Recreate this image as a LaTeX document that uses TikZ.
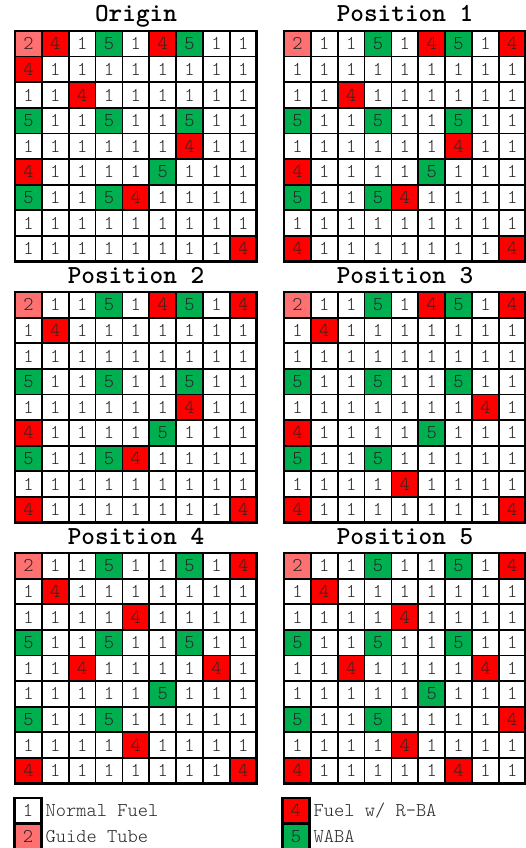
\documentclass[tikz,border=0pt]{standalone}
\usepackage{fontspec}
\setmonofont{Latin Modern Mono Light}
\usetikzlibrary{positioning}

\definecolor{c1}{RGB}{255,255,255}
\definecolor{c2}{RGB}{255,112,112}
\definecolor{c4}{RGB}{255,0,0}
\definecolor{c5}{RGB}{0,176,80}

% one 9x9 loading map: name, left, top, title, rows
\newcommand{\coremap}[5]{%
  \node[maptitle] (#1-t) at (#2+121,#3-9) {#4};
  \foreach \row [count=\r] in {#5} {
    \foreach \v [count=\c] in \row
      \node[cell, fill=c\v] (#1-\r-\c) at (#2+\c*26.85-13.425, #3+\r*25.6-12.8) {\v};
  }
  \draw[line width=2.6pt] (#1-1-1.north west) rectangle (#1-9-9.south east);
}

\begin{document}
\begin{tikzpicture}[x=1pt, y=-1pt,
    cell/.style={rectangle, draw, line width=1.8pt, minimum width=26.85pt,
      minimum height=25.6pt, inner sep=0pt, outer sep=0pt, text=black!85,
      font=\ttfamily\fontsize{19.5}{19.5}\selectfont},
    maptitle/.style={anchor=base, font=\ttfamily\fontsize{26}{26}\selectfont\bfseries},
    keycell/.style={cell, line width=2.4pt},
    keytext/.style={anchor=west, inner sep=0pt, text=black!85,
      font=\ttfamily\fontsize{19.5}{19.5}\selectfont}]
  \useasboundingbox (0,0) rectangle (526,848);

  \coremap{org}{15}{31}{Origin}{
    {2,4,1,5,1,4,5,1,1},{4,1,1,1,1,1,1,1,1},{1,1,4,1,1,1,1,1,1},
    {5,1,1,5,1,1,5,1,1},{1,1,1,1,1,1,4,1,1},{4,1,1,1,1,5,1,1,1},
    {5,1,1,5,4,1,1,1,1},{1,1,1,1,1,1,1,1,1},{1,1,1,1,1,1,1,1,4}}
  \coremap{p1}{284}{31}{Position 1}{
    {2,1,1,5,1,4,5,1,4},{1,1,1,1,1,1,1,1,1},{1,1,4,1,1,1,1,1,1},
    {5,1,1,5,1,1,5,1,1},{1,1,1,1,1,1,4,1,1},{4,1,1,1,1,5,1,1,1},
    {5,1,1,5,4,1,1,1,1},{1,1,1,1,1,1,1,1,1},{4,1,1,1,1,1,1,1,4}}
  \coremap{p2}{15}{292}{Position 2}{
    {2,1,1,5,1,4,5,1,4},{1,4,1,1,1,1,1,1,1},{1,1,1,1,1,1,1,1,1},
    {5,1,1,5,1,1,5,1,1},{1,1,1,1,1,1,4,1,1},{4,1,1,1,1,5,1,1,1},
    {5,1,1,5,4,1,1,1,1},{1,1,1,1,1,1,1,1,1},{4,1,1,1,1,1,1,1,4}}
  \coremap{p3}{284}{292}{Position 3}{
    {2,1,1,5,1,4,5,1,4},{1,4,1,1,1,1,1,1,1},{1,1,1,1,1,1,1,1,1},
    {5,1,1,5,1,1,5,1,1},{1,1,1,1,1,1,1,4,1},{4,1,1,1,1,5,1,1,1},
    {5,1,1,5,1,1,1,1,1},{1,1,1,1,4,1,1,1,1},{4,1,1,1,1,1,1,1,4}}
  \coremap{p4}{15}{553}{Position 4}{
    {2,1,1,5,1,1,5,1,4},{1,4,1,1,1,1,1,1,1},{1,1,1,1,4,1,1,1,1},
    {5,1,1,5,1,1,5,1,1},{1,1,4,1,1,1,1,4,1},{1,1,1,1,1,5,1,1,1},
    {5,1,1,5,1,1,1,1,1},{1,1,1,1,4,1,1,1,1},{4,1,1,1,1,1,1,1,4}}
  \coremap{p5}{284}{553}{Position 5}{
    {2,1,1,5,1,1,5,1,4},{1,4,1,1,1,1,1,1,1},{1,1,1,1,4,1,1,1,1},
    {5,1,1,5,1,1,5,1,1},{1,1,4,1,1,1,1,4,1},{1,1,1,1,1,5,1,1,1},
    {5,1,1,5,1,1,1,1,4},{1,1,1,1,4,1,1,1,1},{4,1,1,1,1,1,4,1,1}}

  % legend
  \node[keycell, fill=c1] (k1) at (28,810.8) {1};
  \node[keycell, fill=c2, below=0pt of k1] (k2) {2};
  \node[keycell, fill=c4] (k4) at (296,810.8) {4};
  \node[keycell, fill=c5, below=0pt of k4] (k5) {5};
  \node[keytext, right=4pt of k1] (k1t) {Normal Fuel};
  \node[keytext, right=4pt of k2] (k2t) {Guide Tube};
  \node[keytext, right=4pt of k4] (k4t) {Fuel w/ R-BA};
  \node[keytext, right=4pt of k5] (k5t) {WABA};
\end{tikzpicture}
\end{document}
